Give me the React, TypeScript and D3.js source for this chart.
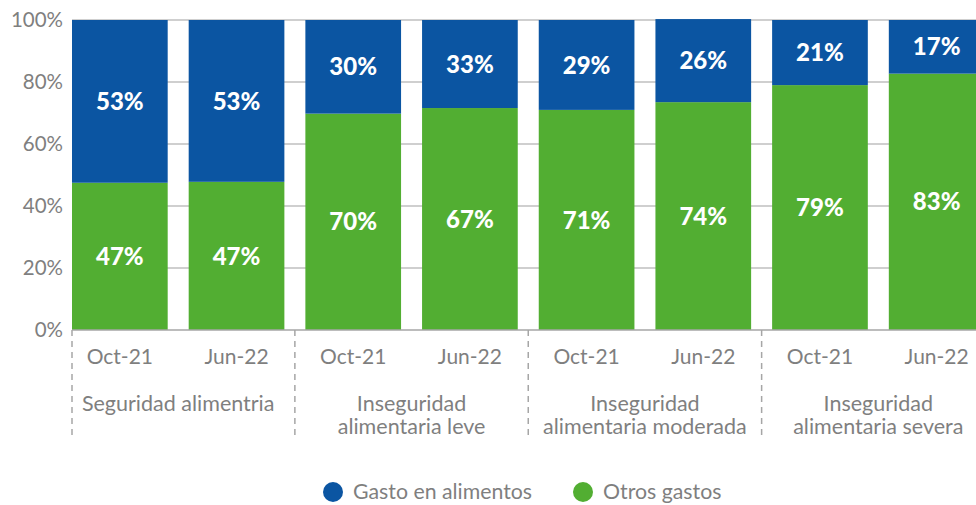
import React from 'react'
import * as d3 from 'd3'

// periods per bar, groups of two
const periods = ['Oct-21', 'Jun-22', 'Oct-21', 'Jun-22', 'Oct-21', 'Jun-22', 'Oct-21', 'Jun-22']
const groups = [
    ['Seguridad alimentria'],
    ['Inseguridad', 'alimentaria leve'],
    ['Inseguridad', 'alimentaria moderada'],
    ['Inseguridad', 'alimentaria severa'],
]
// segment heights
const otros = [47.5, 47.8, 69.8, 71.6, 71, 73.5, 79, 82.7]
const gasto = [52.5, 52.2, 30.2, 28.4, 29, 26.8, 21, 17.3]
// printed labels
const otrosLabels = ['47%', '47%', '70%', '67%', '71%', '74%', '79%', '83%']
const gastoLabels = ['53%', '53%', '30%', '33%', '29%', '26%', '21%', '17%']
const yTicks = [0, 20, 40, 60, 80, 100]
const legend = [
    {name: 'Gasto en alimentos', color: '#0B55A2'},
    {name: 'Otros gastos', color: '#52AE32'},
]

const W = 976
const H = 505
const BLUE = '#0B55A2'
const GREEN = '#52AE32'
const GRAY = '#7F7F7F'
const FONT = 'Lato, "Open Sans", sans-serif'

export default function App() {
    const x = d3.scaleBand<number>()
        .domain(d3.range(periods.length))
        .range([61.5, 995])
        .paddingInner(0.18)
        .paddingOuter(0.09)
    const y = d3.scaleLinear().domain([0, 100]).range([330, 20])
    const bw = x.bandwidth()
    const gap = x.step() * 0.18
    const left = x(0) as number

    const seps = groups.map((g, i) => i === 0 ? left : (x(i * 2) as number) - gap / 2)

    return (
        <svg width={W} height={H} style={{position: 'absolute', left: 0, top: 0}} fontFamily={FONT}>
            {yTicks.filter(t => t > 0).map(t => (
                <line key={t} x1={left} x2={W} y1={y(t)} y2={y(t)} stroke="#BFBFBF" strokeWidth={1.5} />
            ))}
            {yTicks.map(t => (
                <text key={t} x={63} y={y(t)} dy="0.35em" textAnchor="end" fontSize={20.5} fill={GRAY}>{t}%</text>
            ))}
            {periods.map((p, i) => {
                const bx = x(i) as number
                const yo = y(otros[i])
                const yg = y(otros[i] + gasto[i])
                return (
                    <g key={i}>
                        <rect x={bx} y={yo} width={bw} height={y(0) - yo} fill={GREEN} />
                        <rect x={bx} y={yg} width={bw} height={yo - yg} fill={BLUE} />
                        <text x={bx + bw / 2} y={(yo + y(0)) / 2} dy="0.36em" textAnchor="middle"
                            fontSize={24} fontWeight={900} fill="#fff">{otrosLabels[i]}</text>
                        <text x={bx + bw / 2} y={(yo + yg) / 2} dy="0.36em" textAnchor="middle"
                            fontSize={24} fontWeight={900} fill="#fff">{gastoLabels[i]}</text>
                        <text x={bx + bw / 2} y={357} dy="0.35em" textAnchor="middle" fontSize={21} fill={GRAY}>{p}</text>
                    </g>
                )
            })}
            <line x1={left} x2={W} y1={y(0)} y2={y(0)} stroke="#A6A6A6" strokeWidth={1.5} />
            {seps.map((sx, i) => (
                <line key={i} x1={sx} x2={sx} y1={y(0)} y2={440} stroke="#A6A6A6" strokeWidth={1.5} strokeDasharray="6,5" />
            ))}
            {groups.map((lines, g) => {
                const cx = ((x(g * 2) as number) + (x(g * 2 + 1) as number)) / 2 + bw / 2
                return (
                    <text key={g} x={cx} textAnchor="middle" fontSize={21.5} fill={GRAY}>
                        {lines.map((l, k) => (
                            <tspan key={k} x={cx} y={403 + k * 23.5} dy="0.35em">{l}</tspan>
                        ))}
                    </text>
                )
            })}
            {legend.map((d, i) => {
                const lx = i === 0 ? 333 : 583
                return (
                    <g key={d.name}>
                        <circle cx={lx} cy={492} r={10} fill={d.color} />
                        <text x={lx + 20} y={492} dy="0.35em" fontSize={21.3} fill={GRAY}>{d.name}</text>
                    </g>
                )
            })}
        </svg>
    )
}
